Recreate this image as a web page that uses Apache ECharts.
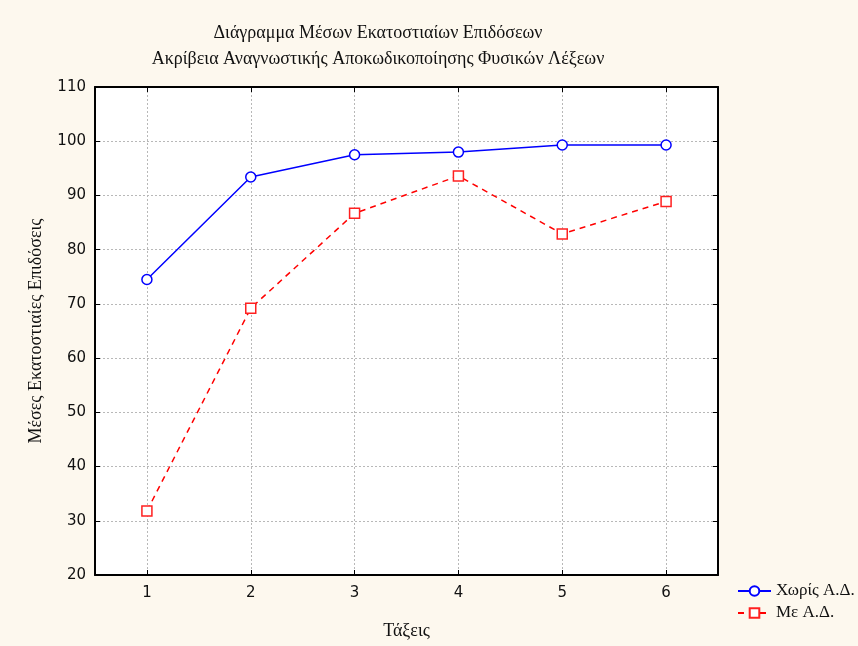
<!DOCTYPE html>
<html>
<head>
<meta charset="utf-8">
<script src="https://cdn.jsdelivr.net/npm/echarts@6/dist/echarts.min.js"></script>
<style>
  html, body { margin: 0; padding: 0; background: #fdf8ee; }
  #chart { width: 858px; height: 646px; }
</style>
</head>
<body>
<div id="chart"></div>
<script>
// Grades (classes) on the horizontal axis
const grades = ['1', '2', '3', '4', '5', '6'];
// Mean percentage scores per grade
const withoutLD = [74.5, 93.4, 97.5, 98.0, 99.3, 99.3];
const withLD = [31.8, 69.2, 86.7, 93.6, 82.9, 88.9];
const seriesNames = ['Χωρίς Α.Δ.', 'Με Α.Δ.'];

const titleText = 'Διάγραμμα Μέσων Εκατοστιαίων Επιδόσεων\nΑκρίβεια Αναγνωστικής Αποκωδικοποίησης Φυσικών Λέξεων';
const yName = 'Μέσες Εκατοστιαίες Επιδόσεις';
const xName = 'Τάξεις';

const serif = '"Liberation Serif", "DejaVu Serif", serif';
const sans = '"DejaVu Sans", "Liberation Sans", sans-serif';

const gridLine = { show: true, lineStyle: { color: '#b8b8b8', type: [2, 2], width: 1 } };
const frame = { show: true, lineStyle: { color: '#000', width: 2 } };

const chart = echarts.init(document.getElementById('chart'));
chart.setOption({
  backgroundColor: '#fdf8ee',
  animation: false,
  title: {
    text: titleText,
    left: 373,
    top: 15,
    textAlign: 'center',
    textStyle: { fontFamily: serif, fontSize: 18, fontWeight: 'normal', color: '#111', lineHeight: 26 }
  },
  legend: {
    orient: 'vertical',
    left: 732,
    top: 577,
    itemWidth: 33,
    itemHeight: 12,
    itemGap: 4,
    data: seriesNames,
    textStyle: { fontFamily: serif, fontSize: 17, color: '#111', lineHeight: 18 }
  },
  grid: {
    left: 95, top: 87, width: 623, height: 488,
    show: true, backgroundColor: '#ffffff', borderColor: '#000', borderWidth: 0
  },
  xAxis: [{
    type: 'category',
    data: grades,
    boundaryGap: true,
    name: xName,
    nameLocation: 'middle',
    nameGap: 47,
    nameTextStyle: { fontFamily: serif, fontSize: 18, color: '#111' },
    axisLine: frame,
    axisTick: { show: true, inside: true, alignWithLabel: true, length: 5, lineStyle: { color: '#000' } },
    axisLabel: { fontFamily: sans, fontSize: 15, color: '#111', margin: 11 },
    splitLine: Object.assign({ alignWithLabel: true }, gridLine)
  }, {
    type: 'category',
    data: grades,
    position: 'top',
    boundaryGap: true,
    axisLine: frame,
    axisTick: { show: true, inside: true, alignWithLabel: true, length: 5, lineStyle: { color: '#000' } },
    axisLabel: { show: false },
    splitLine: { show: false }
  }],
  yAxis: [{
    type: 'value',
    min: 20, max: 110, interval: 10,
    name: yName,
    nameLocation: 'middle',
    nameGap: 50,
    nameTextStyle: { fontFamily: serif, fontSize: 18, color: '#111' },
    axisLine: frame,
    axisTick: { show: true, inside: true, length: 5, lineStyle: { color: '#000' } },
    axisLabel: { fontFamily: sans, fontSize: 15, color: '#111', margin: 9 },
    splitLine: gridLine
  }, {
    type: 'value',
    min: 20, max: 110, interval: 10,
    position: 'right',
    axisLine: frame,
    axisTick: { show: true, inside: true, length: 5, lineStyle: { color: '#000' } },
    axisLabel: { show: false },
    splitLine: { show: false }
  }],
  series: [{
    name: seriesNames[0],
    type: 'line',
    data: withoutLD,
    symbol: 'circle',
    symbolSize: 10,
    lineStyle: { color: '#0000ff', width: 1.5, type: 'solid' },
    itemStyle: { color: '#ffffff', borderColor: '#0000ff', borderWidth: 1.5 },
    z: 3
  }, {
    name: seriesNames[1],
    type: 'line',
    data: withLD,
    symbol: 'rect',
    symbolSize: 10,
    lineStyle: { color: '#ff0000', width: 1.5, type: [6, 5] },
    itemStyle: { color: '#ffffff', borderColor: '#ff2020', borderWidth: 1.5 },
    z: 3
  }]
});
</script>
</body>
</html>
